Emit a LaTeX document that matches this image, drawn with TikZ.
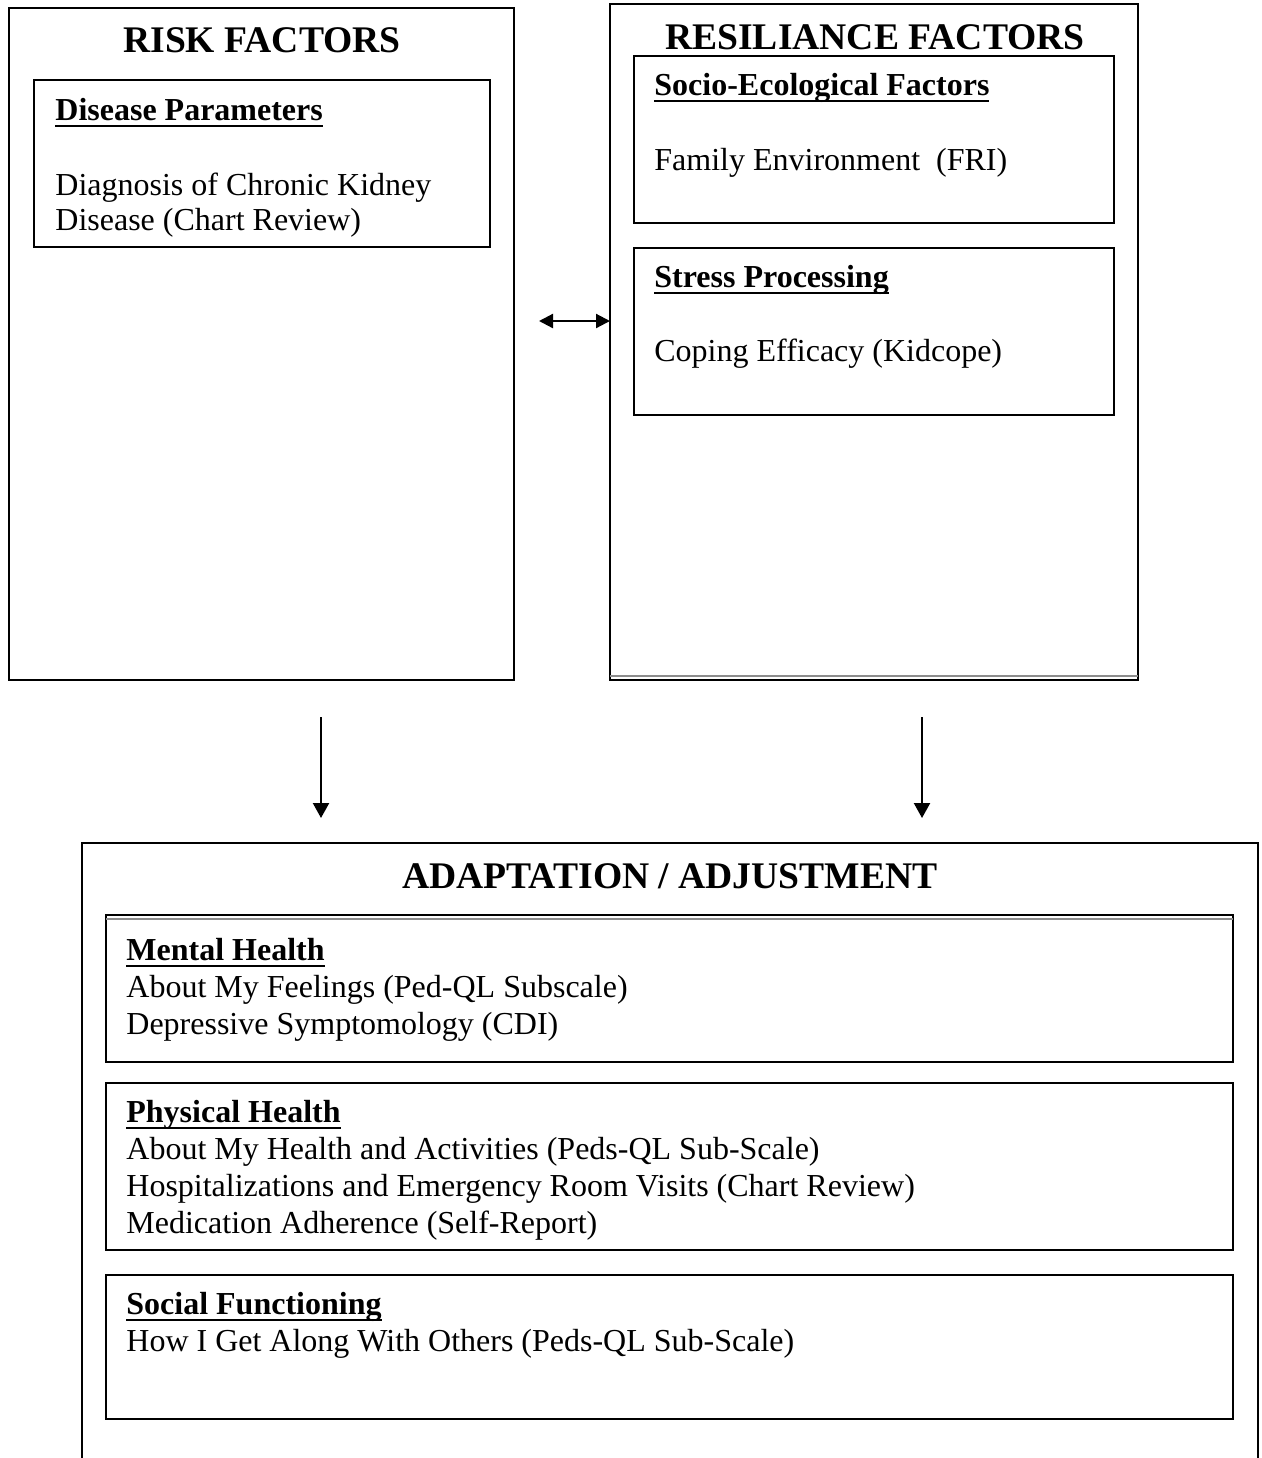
\documentclass[tikz,border=0pt]{standalone}
\usepackage{fontspec}
\setmainfont{Liberation Serif}
\usetikzlibrary{arrows.meta,fit}
% bold heading with a heavy underline
\newcommand\headul[1]{\setbox0\hbox{\bfseries #1}\rlap{\rule[-3.4pt]{\wd0}{1.1pt}}\box0}

\begin{document}
\begin{tikzpicture}[x=0.5pt,y=-0.5pt,
  frame/.style={draw,rectangle,line width=1.1pt,inner sep=0pt,outer sep=0pt},
  area/.style={rectangle,inner sep=0pt,outer sep=0pt},
  txt/.style={anchor=base west,inner sep=0pt,font=\fontsize{16}{19}\selectfont},
  heading/.style={anchor=base,inner sep=0pt,font=\fontsize{18.8}{22}\selectfont\bfseries},
  thinrule/.style={draw=black!45,line width=0.6pt},
  flow/.style={line width=1.1pt,-{Triangle[width=8pt,length=7.5pt]}},
  twoway/.style={line width=1.1pt,{Triangle[width=7pt,length=7pt]}-{Triangle[width=7pt,length=7pt]}}]

\useasboundingbox (0,0) rectangle (1262,1458);

% ---- risk factors ----
\node[frame,fit={(9,8)(514,680)}] (risk) {};
\node[heading] (risktitle) at (262,52) {RISK FACTORS};
\node[frame,fit={(34,80)(490,247)}] (disease) {};
\node[txt] (diseasehd) at (55,120) {\headul{Disease Parameters}};
\node[txt] (diseasel1) at (55,195) {Diagnosis of Chronic Kidney};
\node[txt] (diseasel2) at (55,230) {Disease (Chart Review)};

% ---- resiliance factors ----
\node[frame,fit={(610,4)(1138,680)}] (res) {};
\draw[thinrule] ([yshift=2pt]res.south west) -- ([yshift=2pt]res.south east);
\node[heading] (restitle) at (875,49) {RESILIANCE FACTORS};
\node[frame,fit={(634,56)(1114,223)}] (socio) {};
\node[txt] (sociohd) at (654,95) {\headul{Socio-Ecological Factors}};
\node[txt] (sociol1) at (654,170) {Family Environment\ \ (FRI)};
\node[frame,fit={(634,248)(1114,415)}] (stress) {};
\node[txt] (stresshd) at (654,287) {\headul{Stress Processing}};
\node[txt] (stressl1) at (654,361) {Coping Efficacy (Kidcope)};

% ---- connectors ----
\coordinate (linkstart) at (539,321);
\draw[twoway] (linkstart) -- (linkstart -| res.west);
\coordinate (downLa) at (321,717);
\coordinate (downLb) at (321,818);
\coordinate (downRa) at (922,717);
\coordinate (downRb) at (922,818);
\draw[flow] (downLa) -- (downLb);
\draw[flow] (downRa) -- (downRb);

% ---- adaptation / adjustment (open at the bottom) ----
\node[area,fit={(82,843)(1258,1458)}] (adapt) {};
\draw[line width=1.1pt] (adapt.south west) |- (adapt.north east) -- (adapt.south east);
\node[heading] (adapttitle) at (670,888) {ADAPTATION / ADJUSTMENT};

\node[frame,fit={(106,915)(1233,1062)}] (mental) {};
\draw[thinrule] ([yshift=-2pt]mental.north west) -- ([yshift=-2pt]mental.north east);
\node[txt] (mentalhd) at (126,960) {\headul{Mental Health}};
\node[txt] (mentall1) at (126,997) {About My Feelings (Ped-QL Subscale)};
\node[txt] (mentall2) at (126,1034) {Depressive Symptomology (CDI)};

\node[frame,fit={(106,1083)(1233,1250)}] (physical) {};
\node[txt] (physhd) at (126,1122) {\headul{Physical Health}};
\node[txt] (physl1) at (126,1159) {About My Health and Activities (Peds-QL Sub-Scale)};
\node[txt] (physl2) at (126,1196) {Hospitalizations and Emergency Room Visits (Chart Review)};
\node[txt] (physl3) at (126,1233) {Medication Adherence (Self-Report)};

\node[frame,fit={(106,1275)(1233,1419)}] (social) {};
\node[txt] (socialhd) at (126,1314) {\headul{Social Functioning}};
\node[txt] (sociall1) at (126,1351) {How I Get Along With Others (Peds-QL Sub-Scale)};
\end{tikzpicture}
\end{document}
